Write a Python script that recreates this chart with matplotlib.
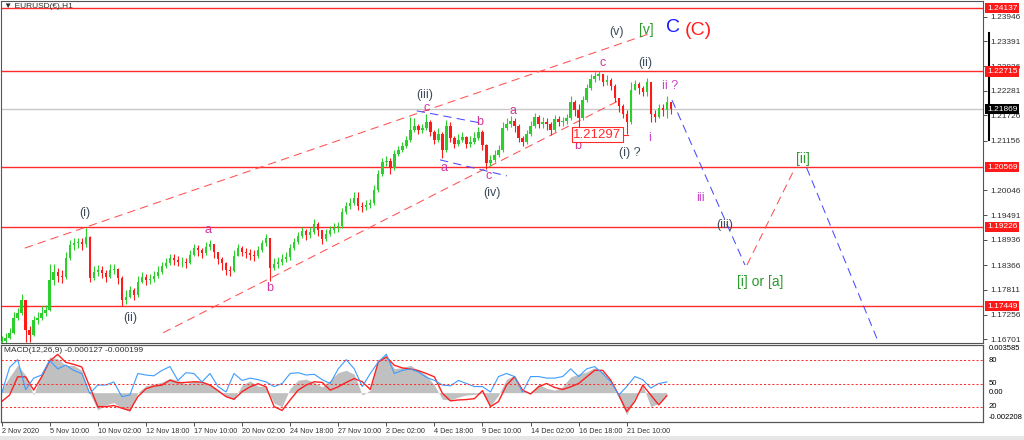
import numpy as np
import matplotlib
matplotlib.use("Agg")
import matplotlib.pyplot as plt
import matplotlib.transforms as mtransforms
from matplotlib.patches import Rectangle

plt.rcParams['font.family'] = ['Liberation Sans', 'DejaVu Sans']

# EURUSD H1, candles grouped ~5 bars each
first_open = 1.1660
close = [1.1666, 1.1673, 1.1685, 1.1718, 1.1729, 1.1758, 1.1691, 1.1680, 1.1714, 1.1718,
         1.1729, 1.1736, 1.1803, 1.1821, 1.1812, 1.1810, 1.1853, 1.1882, 1.1886, 1.1889,
         1.1884, 1.1900, 1.1808, 1.1821, 1.1826, 1.1819, 1.1810, 1.1826, 1.1828, 1.1808,
         1.1758, 1.1765, 1.1781, 1.1770, 1.1799, 1.1810, 1.1803, 1.1806, 1.1812, 1.1821,
         1.1835, 1.1841, 1.1853, 1.1848, 1.1844, 1.1844, 1.1841, 1.1859, 1.1875, 1.1871,
         1.1864, 1.1877, 1.1884, 1.1866, 1.1850, 1.1841, 1.1826, 1.1824, 1.1857, 1.1875,
         1.1866, 1.1864, 1.1859, 1.1857, 1.1871, 1.1886, 1.1898, 1.1830, 1.1839, 1.1844,
         1.1850, 1.1855, 1.1875, 1.1889, 1.1902, 1.1913, 1.1904, 1.1911, 1.1929, 1.1916,
         1.1895, 1.1907, 1.1916, 1.1920, 1.1924, 1.1956, 1.1969, 1.1976, 1.1987, 1.1969,
         1.1967, 1.1972, 1.1976, 1.2005, 1.2041, 1.2068, 1.2070, 1.2055, 1.2086, 1.2095,
         1.2104, 1.2118, 1.2140, 1.2149, 1.2140, 1.2144, 1.2158, 1.2136, 1.2118, 1.2131,
         1.2095, 1.2149, 1.2122, 1.2109, 1.2118, 1.2124, 1.2109, 1.2113, 1.2122, 1.2136,
         1.2106, 1.2066, 1.2073, 1.2084, 1.2095, 1.2144, 1.2153, 1.2160, 1.2149, 1.2122,
         1.2113, 1.2131, 1.2149, 1.2169, 1.2153, 1.2158, 1.2153, 1.2140, 1.2165, 1.2158,
         1.2160, 1.2167, 1.2203, 1.2185, 1.2167, 1.2207, 1.2234, 1.2254, 1.2261, 1.2266,
         1.2248, 1.2252, 1.2239, 1.2212, 1.2194, 1.2176, 1.2158, 1.2230, 1.2243, 1.2234,
         1.2225, 1.2248, 1.2176, 1.2169, 1.2189, 1.2185, 1.2203, 1.2187]
high = [1.1678, 1.1685, 1.1696, 1.1731, 1.1740, 1.1772, 1.1758, 1.1700, 1.1722, 1.1731,
        1.1745, 1.1747, 1.1839, 1.1839, 1.1830, 1.1826, 1.1866, 1.1893, 1.1898, 1.1898,
        1.1898, 1.1920, 1.1902, 1.1835, 1.1837, 1.1835, 1.1826, 1.1839, 1.1839, 1.1830,
        1.1812, 1.1781, 1.1790, 1.1785, 1.1812, 1.1821, 1.1817, 1.1817, 1.1824, 1.1835,
        1.1844, 1.1853, 1.1862, 1.1862, 1.1857, 1.1855, 1.1853, 1.1871, 1.1884, 1.1882,
        1.1875, 1.1889, 1.1893, 1.1884, 1.1866, 1.1855, 1.1844, 1.1835, 1.1871, 1.1884,
        1.1880, 1.1875, 1.1873, 1.1871, 1.1880, 1.1893, 1.1907, 1.1898, 1.1853, 1.1855,
        1.1862, 1.1866, 1.1884, 1.1898, 1.1911, 1.1922, 1.1918, 1.1922, 1.1940, 1.1933,
        1.1916, 1.1918, 1.1924, 1.1931, 1.1933, 1.1965, 1.1978, 1.1987, 1.2001, 1.2001,
        1.1978, 1.1983, 1.1985, 1.2017, 1.2050, 1.2077, 1.2082, 1.2077, 1.2095, 1.2104,
        1.2113, 1.2127, 1.2169, 1.2167, 1.2153, 1.2153, 1.2176, 1.2162, 1.2140, 1.2144,
        1.2136, 1.2162, 1.2158, 1.2127, 1.2131, 1.2136, 1.2127, 1.2127, 1.2136, 1.2147,
        1.2140, 1.2109, 1.2084, 1.2095, 1.2106, 1.2158, 1.2167, 1.2171, 1.2167, 1.2153,
        1.2127, 1.2140, 1.2160, 1.2178, 1.2174, 1.2169, 1.2167, 1.2158, 1.2174, 1.2171,
        1.2169, 1.2176, 1.2216, 1.2207, 1.2198, 1.2216, 1.2243, 1.2266, 1.2270, 1.2272,
        1.2266, 1.2263, 1.2257, 1.2243, 1.2212, 1.2198, 1.2185, 1.2248, 1.2252, 1.2248,
        1.2239, 1.2257, 1.2243, 1.2185, 1.2198, 1.2198, 1.2216, 1.2198]
low = [1.1662, 1.1662, 1.1671, 1.1682, 1.1714, 1.1725, 1.1664, 1.1664, 1.1678, 1.1705,
       1.1714, 1.1722, 1.1734, 1.1792, 1.1799, 1.1797, 1.1806, 1.1848, 1.1871, 1.1875,
       1.1871, 1.1877, 1.1799, 1.1803, 1.1812, 1.1808, 1.1799, 1.1808, 1.1817, 1.1794,
       1.1745, 1.1749, 1.1763, 1.1758, 1.1765, 1.1797, 1.1792, 1.1794, 1.1799, 1.1808,
       1.1817, 1.1830, 1.1837, 1.1837, 1.1835, 1.1832, 1.1830, 1.1839, 1.1857, 1.1857,
       1.1853, 1.1859, 1.1871, 1.1853, 1.1839, 1.1826, 1.1815, 1.1812, 1.1821, 1.1857,
       1.1857, 1.1853, 1.1848, 1.1846, 1.1853, 1.1866, 1.1880, 1.1801, 1.1826, 1.1830,
       1.1837, 1.1844, 1.1848, 1.1871, 1.1884, 1.1898, 1.1893, 1.1898, 1.1907, 1.1902,
       1.1884, 1.1891, 1.1902, 1.1909, 1.1911, 1.1920, 1.1951, 1.1963, 1.1972, 1.1960,
       1.1956, 1.1960, 1.1965, 1.1972, 1.2001, 1.2037, 1.2059, 1.2041, 1.2050, 1.2082,
       1.2091, 1.2100, 1.2113, 1.2136, 1.2131, 1.2133, 1.2140, 1.2127, 1.2109, 1.2113,
       1.2077, 1.2091, 1.2113, 1.2100, 1.2104, 1.2113, 1.2100, 1.2102, 1.2109, 1.2118,
       1.2095, 1.2052, 1.2059, 1.2068, 1.2079, 1.2091, 1.2140, 1.2147, 1.2136, 1.2113,
       1.2104, 1.2109, 1.2127, 1.2144, 1.2144, 1.2144, 1.2140, 1.2129, 1.2136, 1.2149,
       1.2149, 1.2153, 1.2162, 1.2171, 1.2131, 1.2162, 1.2203, 1.2230, 1.2248, 1.2252,
       1.2239, 1.2241, 1.2230, 1.2203, 1.2180, 1.2167, 1.2131, 1.2153, 1.2230, 1.2221,
       1.2216, 1.2216, 1.2158, 1.2158, 1.2167, 1.2171, 1.2167, 1.2176]

# MACD panel, one reading every second candle
macd_main = [0.00019, 0.00119, 0.00206, 0.00131, -0.00018, 0.00144, 0.00268, 0.00255, 0.00206, 0.00206,
             0.00168, -0.00005, -0.00130, -0.00092, -0.00075, -0.00117, -0.00142, 0.00000, 0.00052, 0.00064,
             0.00079, 0.00106, 0.00094, 0.00064, 0.00091, 0.00079, 0.00064, 0.00019, -0.00030, -0.00050,
             0.00057, 0.00089, 0.00049, 0.00044, -0.00080, -0.00105, 0.00032, 0.00094, 0.00101, 0.00077,
             0.00044, 0.00094, 0.00151, 0.00168, 0.00139, -0.00018, 0.00019, 0.00243, 0.00283, 0.00181,
             0.00188, 0.00206, 0.00168, 0.00131, 0.00057, -0.00050, -0.00055, -0.00033, -0.00018, -0.00013,
             -0.00005, -0.00100, -0.00018, 0.00101, 0.00131, 0.00019, -0.00005, 0.00064, 0.00032, 0.00019,
             0.00044, 0.00119, 0.00139, 0.00156, 0.00188, 0.00156, 0.00069, -0.00035, -0.00167, -0.00043,
             0.00054, -0.00105, -0.00080, -0.00013]
macd_signal = [-0.00067, -0.00018, 0.00119, 0.00119, 0.00019, 0.00119, 0.00238, 0.00288, 0.00228, 0.00213,
               0.00193, 0.00044, -0.00105, -0.00105, -0.00097, -0.00117, -0.00134, -0.00030, 0.00029, 0.00049,
               0.00057, 0.00094, 0.00074, 0.00077, 0.00082, 0.00079, 0.00057, 0.00015, -0.00030, -0.00050,
               0.00007, 0.00044, 0.00067, 0.00044, -0.00105, -0.00134, -0.00055, 0.00019, 0.00057, 0.00082,
               0.00077, 0.00019, 0.00044, 0.00077, 0.00106, 0.00082, 0.00024, 0.00231, 0.00268, 0.00206,
               0.00186, 0.00178, 0.00166, 0.00144, 0.00119, -0.00005, -0.00062, -0.00055, -0.00052, -0.00045,
               0.00015, -0.00105, -0.00067, 0.00057, 0.00119, 0.00019, -0.00010, 0.00044, 0.00069, 0.00039,
               0.00024, 0.00044, 0.00069, 0.00119, 0.00168, 0.00168, 0.00094, -0.00018, -0.00142, -0.00067,
               0.00057, -0.00018, -0.00092, -0.00023]
osc = [37, 71, 81, 42, 57, 61, 80, 69, 74, 67,
       63, 37, 48, 48, 52, 33, 35, 63, 61, 60,
       67, 72, 54, 64, 63, 52, 63, 46, 39, 63,
       54, 57, 55, 52, 46, 50, 63, 64, 61, 62,
       55, 50, 69, 81, 69, 46, 63, 78, 88, 63,
       67, 69, 65, 58, 54, 48, 47, 54, 50, 46,
       46, 39, 59, 63, 59, 39, 59, 59, 57, 57,
       59, 69, 59, 69, 72, 63, 52, 35, 46, 59,
       55, 44, 50, 52]

levels = [1.24137, 1.22715, 1.20569, 1.19226, 1.17449]
last_price = 1.21869
price_ticks = [1.23946, 1.23391, 1.22836, 1.22281, 1.21726, 1.21156, 1.20046,
               1.19491, 1.18936, 1.18366, 1.17811, 1.17256, 1.16701]
date_labels = ['2 Nov 2020', '5 Nov 10:00', '10 Nov 02:00', '12 Nov 18:00', '17 Nov 10:00',
               '20 Nov 02:00', '24 Nov 18:00', '27 Nov 10:00', '2 Dec 02:00', '4 Dec 18:00',
               '9 Dec 10:00', '14 Dec 02:00', '16 Dec 18:00', '21 Dec 10:00']

W, H = 1024, 440
fig = plt.figure(figsize=(W / 100, H / 100), dpi=100)
ax = fig.add_axes([1 / W, 1 - 343 / H, 982 / W, 342 / H])
axm = fig.add_axes([1 / W, 1 - 422 / H, 982 / W, 77 / H])

close = np.array(close)
high = np.array(high)
low = np.array(low)
k = np.arange(len(close))
opn = np.r_[first_open, close[:-1]]
col = np.where(close >= opn, '#2ccf2c', '#ff1a1a')

RED = '#ff2a2a'
for lv in levels:
    ax.axhline(lv, color=RED, lw=1.0, zorder=1)
ax.axhline(last_price, color='#c8c8c8', lw=1.0, zorder=1)

ax.vlines(k, low, high, colors=col, lw=0.8, zorder=3)
ax.bar(k, close - opn, bottom=opn, width=0.6, color=col, linewidth=0, zorder=3)

dash = (0, (8, 5))
# wedge lines
ax.plot([5.8, 162.3], [1.1875, 1.2358], color='#ff5050', lw=0.75, ls=dash, zorder=2)
ax.plot([40.3, 153.8], [1.1685, 1.2205], color='#ff5050', lw=0.75, ls=dash, zorder=2)
# triangle lines around (iv)
ax.plot([103.6, 119.4], [1.2183, 1.2156], color='#4a4aff', lw=0.75, ls=dash, zorder=2)
ax.plot([109.4, 126.1], [1.2073, 1.2037], color='#4a4aff', lw=0.75, ls=dash, zorder=2)
# projected path
ax.plot([167.3, 185.5], [1.2207, 1.1837], color='#4a4aff', lw=0.75, ls=dash, zorder=2)
ax.plot([186.0, 197.5], [1.1837, 1.2046], color='#ff5050', lw=0.75, ls=dash, zorder=2)
ax.plot([200.9, 222.0], [1.2055, 1.1594], color='#4a4aff', lw=0.75, ls=dash, zorder=2)

GREY = '#3e4c5a'
MAG = '#d4339a'
PINK = '#cc44cc'
GRN = '#2a9a2a'
labels = [
    (20.8, 1.1954, '(i)', GREY, 9), (32.0, 1.1718, '(ii)', GREY, 9),
    (105.6, 1.2218, '(iii)', GREY, 9), (122.4, 1.1999, '(iv)', GREY, 9),
    (153.5, 1.2360, '(v)', GREY, 9), (160.5, 1.2290, '(ii)', GREY, 9),
    (156.8, 1.2088, '(i) ?', GREY, 9), (180.5, 1.1927, '(iii)', GREY, 9),
    (51.5, 1.1916, 'a', MAG, 9), (67.0, 1.1785, 'b', MAG, 9),
    (106.1, 1.2190, 'c', MAG, 9), (110.4, 1.2055, 'a', MAG, 9),
    (119.4, 1.2158, 'b', MAG, 9), (121.6, 1.2037, 'c', MAG, 9),
    (127.6, 1.2183, 'a', MAG, 9), (143.8, 1.2104, 'b', MAG, 9),
    (150.0, 1.2290, 'c', MAG, 9), (161.8, 1.2122, 'i', PINK, 9),
    (166.8, 1.2239, 'ii ?', PINK, 9), (174.3, 1.1987, 'iii', PINK, 9),
    (161.0, 1.2364, '[v]', GRN, 10), (200.0, 1.2075, '[ii]', GRN, 10),
    (189.2, 1.1799, '[i] or [a]', GRN, 10),
    (167.5, 1.2369, 'C', '#1a1aff', 14), (173.8, 1.2364, '(C)', '#ff2020', 14),
]
for x, y, s, c, fs in labels:
    ax.text(x, y, s, color=c, fontsize=fs, ha='center', va='center', zorder=6)

ax.text(148.7, 1.21297, '1.21297', color=RED, fontsize=9.5, ha='center', va='center', zorder=6,
        bbox=dict(boxstyle='square,pad=0.1', fc='white', ec=RED, lw=0.8))
ax.plot([154.3, 156.3], [1.21297, 1.21297], color=RED, lw=0.8, zorder=5)

ax.set_xlim(-0.15, 244.9)
ax.set_ylim(1.16620, 1.24295)
ax.set_xticks([])
ax.yaxis.tick_right()
ax.set_yticks(price_ticks)
ax.set_yticklabels([f'{p:.5f}' for p in price_ticks])
ax.tick_params(axis='y', length=3, width=0.6, pad=2, labelsize=6, colors='#303030')

trans = mtransforms.blended_transform_factory(ax.transAxes, ax.transData)
for lv in levels:
    ax.text(1.004, lv, f'{lv:.5f}', transform=trans, ha='left', va='center', fontsize=6,
            color='white', clip_on=False, zorder=7,
            bbox=dict(boxstyle='square,pad=0.2', fc='#ff1a1a', ec='none'))
ax.text(1.004, last_price, f'{last_price:.5f}', transform=trans, ha='left', va='center',
        fontsize=6, color='white', clip_on=False, zorder=7,
        bbox=dict(boxstyle='square,pad=0.2', fc='black', ec='none'))
ax.plot([1.0065, 1.0065], [1.23576, 1.21175], transform=trans, color='black', lw=1.5, clip_on=False)

# MACD panel
mk = np.arange(0, len(close), 2)
axm.fill_between(mk, 0, macd_main, color='#c0c0c0', lw=0, zorder=1)
axm.plot(mk, macd_signal, color='#ff2020', lw=1.0, zorder=3)
axm.set_ylim(-0.002208, 0.003585)
axm.set_xlim(-0.15, 244.9)
axo = axm.twinx()
axo.set_ylim(0, 100)
axo.plot(mk, osc, color='#3b9cff', lw=0.8, zorder=2)
for lv in (80, 50, 20):
    axo.axhline(lv, color='#ff3030', lw=0.75, ls=(0, (2, 2)))
axo.set_yticks([])
axm.set_yticks([])
axm.set_xticks(np.arange(0, len(close), 12)[:len(date_labels)])
axm.set_xticklabels(date_labels, ha='left')
axm.tick_params(axis='x', length=3, width=0.6, pad=1, labelsize=5.2, colors='#303030')

mtr = mtransforms.blended_transform_factory(axm.transAxes, axm.transData)
otr = mtransforms.blended_transform_factory(axm.transAxes, axo.transData)
axm.text(1.006, 0.96, '0.003585', transform=axm.transAxes, fontsize=5.5, va='center', ha='left', clip_on=False)
axm.text(1.006, 0.06, '-0.002208', transform=axm.transAxes, fontsize=5.5, va='center', ha='left', clip_on=False)
axm.text(1.006, 0.0, '0.00', transform=mtr, fontsize=5.5, va='center', ha='left', clip_on=False)
for lv in (80, 50, 20):
    axm.text(1.006, lv, str(lv), transform=otr, fontsize=5.5, va='center', ha='left', clip_on=False)

for a in (ax, axm, axo):
    for s in a.spines.values():
        s.set_color('#555555')
        s.set_linewidth(0.8)

fig.text(4 / W, 1 - 6 / H, '\u25bc EURUSD(\u20ac),H1', fontsize=6, color='#303030', va='center')
fig.text(4 / W, 1 - 350 / H, 'MACD(12,26,9) -0.000127 -0.000199', fontsize=6, color='#303030', va='center')
fig.patches.append(Rectangle((0, 0), 1, 4 / H, transform=fig.transFigure, fc='#e6e6e6', ec='none'))

fig.savefig('out.png', dpi=100)
